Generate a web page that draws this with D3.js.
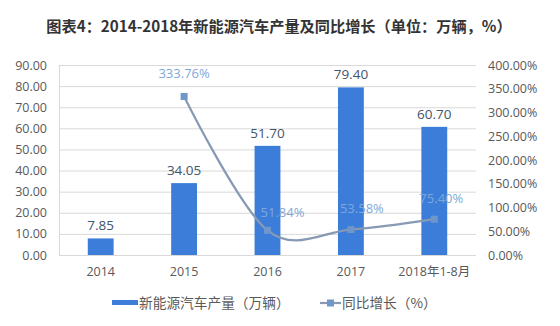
<!DOCTYPE html>
<html><head><meta charset="utf-8">
<script src="https://cdn.jsdelivr.net/npm/d3@7"></script>
<style>
html,body{margin:0;padding:0;background:#fff;}
svg{display:block;font-family:"Noto Sans CJK SC","Noto Sans",sans-serif;}
</style></head>
<body>
<svg id="chart" width="560" height="326"></svg>
<script>
const title = "图表4：2014-2018年新能源汽车产量及同比增长（单位：万辆，%）";
const categories = ["2014","2015","2016","2017","2018年1-8月"];
const production = [7.85, 34.05, 51.70, 79.40, 60.70];
const growth = [null, 333.76, 51.84, 53.58, 75.40];
const leftTicks = [0,10,20,30,40,50,60,70,80,90];
const rightTicks = [0,50,100,150,200,250,300,350,400];
const seriesNames = ["新能源汽车产量（万辆）","同比增长（%）"];

const svg = d3.select("#chart");
const M = {left:59, right:476, top:65, bottom:255};
const barColor = "#3b7dd8", lineColor = "#8799b3", markerColor = "#6f97c9", lineLabelColor = "#7ea8d8";
const tickColor = "#595959";

const x = d3.scaleBand().domain(categories).range([M.left, M.right]).paddingInner(0.69).paddingOuter(0.345);
const yL = d3.scaleLinear().domain([0,90]).range([M.bottom, M.top]);
const yR = d3.scaleLinear().domain([0,400]).range([M.bottom, M.top]);

svg.append("text").attr("x",279).attr("y",32).attr("text-anchor","middle")
  .attr("font-size",15.2).attr("font-weight","bold").attr("fill","#333").text(title);

// gridlines
svg.append("g").selectAll("line").data(leftTicks.filter(d=>d>0)).join("line")
  .attr("x1",M.left).attr("x2",M.right).attr("y1",d=>yL(d)+0.5).attr("y2",d=>yL(d)+0.5)
  .attr("stroke","#d9d9d9").attr("stroke-width",1);

// left axis
const gl = svg.append("g").attr("transform",`translate(${M.left},0)`)
  .call(d3.axisLeft(yL).tickValues(leftTicks).tickFormat(d3.format(".2f")).tickSize(0).tickPadding(12));
gl.select(".domain").attr("stroke","#d9d9d9");
gl.selectAll("text").attr("font-size",12.5).attr("fill",tickColor).attr("font-family","'Open Sans',sans-serif");

// right axis
const gr = svg.append("g").attr("transform",`translate(${M.right},0)`)
  .call(d3.axisRight(yR).tickValues(rightTicks).tickFormat(d=>d3.format(".2f")(d)+"%").tickSize(0).tickPadding(12));
gr.select(".domain").remove();
gr.selectAll("text").attr("font-size",12.5).attr("fill",tickColor).attr("font-family","'Open Sans',sans-serif");

// bottom axis
const gb = svg.append("g").attr("transform",`translate(0,${M.bottom})`)
  .call(d3.axisBottom(x).tickSize(0).tickPadding(12));
gb.select(".domain").attr("stroke","#d9d9d9").attr("d",`M${M.left},0.5H${M.right}`);
gb.selectAll("text").attr("font-size",12.5).attr("fill",tickColor).attr("font-family","'Open Sans','Noto Sans CJK SC',sans-serif");

// bars
svg.append("g").selectAll("rect").data(production).join("rect")
  .attr("x",(d,i)=>x(categories[i])).attr("width",x.bandwidth())
  .attr("y",d=>yL(d)).attr("height",d=>M.bottom-yL(d)).attr("fill",barColor);
svg.append("g").selectAll("text").data(production).join("text")
  .attr("x",(d,i)=>x(categories[i])+x.bandwidth()/2).attr("y",d=>yL(d)-8)
  .attr("text-anchor","middle").attr("font-size",13.5).attr("fill","#44546a")
  .attr("font-family","'Open Sans',sans-serif").text(d=>d3.format(".2f")(d));

// line
const pts = growth.map((g,i)=>({c:categories[i],g})).filter(d=>d.g!=null);
const line = d3.line().x(d=>x(d.c)+x.bandwidth()/2).y(d=>yR(d.g)).curve(d3.curveCardinal.tension(0));
svg.append("path").datum(pts).attr("d",line).attr("fill","none").attr("stroke",lineColor).attr("stroke-width",2.2);
svg.append("g").selectAll("rect").data(pts).join("rect")
  .attr("x",d=>x(d.c)+x.bandwidth()/2-3.5).attr("y",d=>yR(d.g)-3.5).attr("width",7).attr("height",7)
  .attr("fill",markerColor);
const dxs = [0,15,11,7], dys=[-18,-13,-17,-16];
svg.append("g").selectAll("text").data(pts).join("text")
  .attr("x",(d,i)=>x(d.c)+x.bandwidth()/2+dxs[i]).attr("y",(d,i)=>yR(d.g)+dys[i])
  .attr("text-anchor","middle").attr("font-size",13).attr("fill",lineLabelColor)
  .attr("font-family","'Open Sans',sans-serif").text(d=>d3.format(".2f")(d.g)+"%");

// legend
const lg = svg.append("g");
lg.append("rect").attr("x",112).attr("y",300).attr("width",26).attr("height",5).attr("fill",barColor);
lg.append("text").attr("x",139).attr("y",308).attr("font-size",13.7).attr("fill",tickColor).text(seriesNames[0]);
lg.append("line").attr("x1",320).attr("x2",341).attr("y1",303).attr("y2",303).attr("stroke",lineColor).attr("stroke-width",2.2);
lg.append("rect").attr("x",327).attr("y",299.5).attr("width",7).attr("height",7).attr("fill",markerColor);
lg.append("text").attr("x",342).attr("y",308).attr("font-size",13.7).attr("fill",tickColor).text(seriesNames[1]);
</script>
</body></html>
